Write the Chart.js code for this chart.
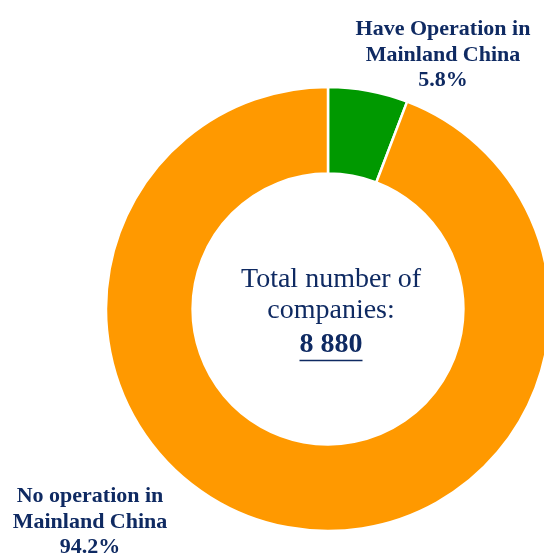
<!DOCTYPE html>
<html>
<head>
<meta charset="utf-8">
<script src="https://cdn.jsdelivr.net/npm/chart.js@4"></script>
<style>
  html, body { margin: 0; padding: 0; background: #ffffff; }
  #wrap { width: 544px; height: 554px; position: relative; }
</style>
</head>
<body>
<div id="wrap"><canvas id="chart"></canvas></div>
<script>
// Data
const categories = ['Have Operation in Mainland China', 'No operation in Mainland China'];
const shares = [5.8, 94.2];
const totalCompanies = '8 880';
const sliceColors = ['#009900', '#ff9900'];

// Etiquetas (lineas de texto)
const labelLines = [
  ['Have Operation in', 'Mainland China', shares[0].toFixed(1) + '%'],
  ['No operation in', 'Mainland China', shares[1].toFixed(1) + '%']
];
const centerLines = ['Total number of', 'companies:'];

const NAVY = '#0f2a62';
const SERIF = '"Liberation Serif", "Times New Roman", serif';

// Plugin para dibujar etiquetas y texto central
const textPlugin = {
  id: 'textPlugin',
  afterDraw(chart) {
    const ctx = chart.ctx;
    ctx.save();
    ctx.fillStyle = NAVY;
    ctx.textAlign = 'center';
    ctx.textBaseline = 'alphabetic';

    // etiquetas exteriores
    ctx.font = 'bold 22px ' + SERIF;
    const anchors = [{ x: 443, y: 35 }, { x: 90, y: 502 }];
    labelLines.forEach((lines, i) => {
      lines.forEach((t, j) => ctx.fillText(t, anchors[i].x, anchors[i].y + j * 25.5));
    });

    // texto central
    const cx = 331;
    ctx.font = '28px ' + SERIF;
    ctx.fillText(centerLines[0], cx, 287);
    ctx.fillText(centerLines[1], cx, 318);
    ctx.font = 'bold 28px ' + SERIF;
    ctx.fillText(totalCompanies, cx, 352);
    const w = ctx.measureText(totalCompanies).width;
    ctx.strokeStyle = NAVY;
    ctx.lineWidth = 1.5;
    ctx.beginPath();
    ctx.moveTo(cx - w / 2, 360.5);
    ctx.lineTo(cx + w / 2, 360.5);
    ctx.stroke();
    ctx.restore();
  }
};

new Chart(document.getElementById('chart'), {
  type: 'doughnut',
  data: {
    labels: categories,
    datasets: [{
      data: shares,
      backgroundColor: sliceColors,
      borderColor: '#ffffff',
      borderWidth: 2.5
    }]
  },
  options: {
    responsive: true,
    maintainAspectRatio: false,
    animation: false,
    radius: 222,
    cutout: '61%',
    layout: { padding: { left: 112, right: 0, top: 64, bottom: 0 } },
    plugins: {
      legend: { display: false },
      tooltip: { enabled: false }
    }
  },
  plugins: [textPlugin]
});
</script>
</body>
</html>
